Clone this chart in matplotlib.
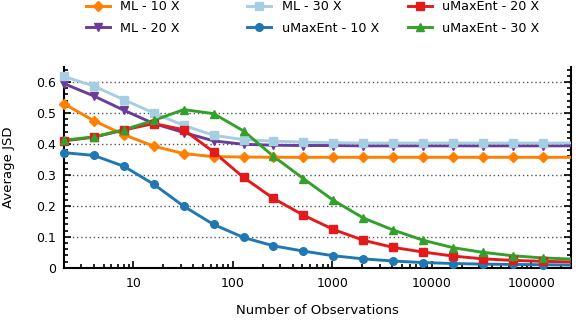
import matplotlib
matplotlib.use('Agg')
import matplotlib.pyplot as plt
import numpy as np
from matplotlib.ticker import FixedLocator, LogLocator, FuncFormatter, MultipleLocator

# number of observations (powers of two)
obs = [2, 4, 8, 16, 32, 64, 128, 256, 512, 1024, 2048, 4096, 8192,
       16384, 32768, 65536, 131072, 262144]

ml_10 = [0.530, 0.475, 0.430, 0.393, 0.369, 0.359, 0.358, 0.357, 0.357, 0.357,
         0.357, 0.357, 0.357, 0.357, 0.357, 0.357, 0.357, 0.357]
ml_20 = [0.595, 0.555, 0.509, 0.466, 0.437, 0.410, 0.399, 0.396, 0.395, 0.395,
         0.394, 0.394, 0.394, 0.394, 0.394, 0.394, 0.394, 0.394]
ml_30 = [0.618, 0.587, 0.543, 0.500, 0.460, 0.428, 0.414, 0.409, 0.406, 0.404,
         0.403, 0.403, 0.403, 0.403, 0.403, 0.403, 0.403, 0.403]
umax_10 = [0.372, 0.363, 0.328, 0.270, 0.199, 0.140, 0.098, 0.071, 0.054, 0.039,
           0.029, 0.022, 0.017, 0.014, 0.012, 0.011, 0.010, 0.009]
umax_20 = [0.410, 0.422, 0.445, 0.466, 0.446, 0.374, 0.292, 0.224, 0.170, 0.124,
           0.089, 0.066, 0.051, 0.038, 0.029, 0.024, 0.021, 0.019]
umax_30 = [0.412, 0.423, 0.446, 0.476, 0.511, 0.498, 0.442, 0.360, 0.288, 0.218,
           0.161, 0.122, 0.089, 0.065, 0.050, 0.039, 0.032, 0.028]

series = [
    ('ML - 10 X', ml_10, '#ff7f00', 'D', 5),
    ('ML - 20 X', ml_20, '#6a3d9a', 'v', 6),
    ('ML - 30 X', ml_30, '#a6cee3', 's', 5.5),
    ('uMaxEnt - 10 X', umax_10, '#1f78b4', 'o', 5.5),
    ('uMaxEnt - 20 X', umax_20, '#e31a1c', 's', 5.5),
    ('uMaxEnt - 30 X', umax_30, '#33a02c', '^', 6),
]

xmax = 250000

fig = plt.figure(figsize=(5.76, 3.2), dpi=100)
ax = fig.add_axes([0.111, 0.163, 0.880, 0.629])

obs_arr = np.array(obs)
handles = []
for name, vals, col, mk, ms in series:
    vals = np.array(vals)
    ax.plot(obs_arr, vals, color=col, lw=2.1, zorder=3)
    keep = obs_arr <= xmax
    ax.plot(obs_arr[keep], vals[keep], color=col, lw=0, marker=mk, ms=ms,
            clip_on=False, zorder=4)
    h, = ax.plot([], [], color=col, lw=2.1, marker=mk, ms=ms, label=name)
    handles.append(h)

ax.set_xscale('log')
ax.set_xlim(2, xmax)
ax.set_ylim(0, 0.65)

ax.xaxis.set_major_locator(FixedLocator([10, 100, 1000, 10000, 100000]))
ax.xaxis.set_major_formatter(FuncFormatter(lambda v, p: '%d' % v))
ax.xaxis.set_minor_locator(LogLocator(base=10, subs=np.arange(2, 10)))
ax.set_yticks([0, 0.1, 0.2, 0.3, 0.4, 0.5, 0.6])
ax.set_yticklabels(['0', '0.1', '0.2', '0.3', '0.4', '0.5', '0.6'])
ax.yaxis.set_minor_locator(MultipleLocator(0.02))

ax.tick_params(which='both', direction='in', left=True, right=True,
               bottom=True, top=False, labelsize=9, width=1.2)
ax.tick_params(which='major', length=5)
ax.tick_params(which='minor', length=3)
ax.tick_params(axis='x', which='major', pad=6.5)
ax.tick_params(axis='y', which='major', pad=5.5)
ax.spines['top'].set_visible(False)
for s in ['left', 'right', 'bottom']:
    ax.spines[s].set_linewidth(1.5)

ax.grid(True, axis='y', which='major', linestyle=(0, (1, 2)), color='#555555', lw=1)
ax.set_axisbelow(True)

ax.set_xlabel('Number of Observations', fontsize=9.5, labelpad=10.5)
ax.set_ylabel('Average JSD', fontsize=9.5, labelpad=15)

# legend: three evenly spaced columns of two entries
col_x = [86 / 576, 247 / 576, 408 / 576]
for i, x0 in enumerate(col_x):
    leg = fig.legend(handles=handles[2 * i:2 * i + 2], loc='upper left',
                     bbox_to_anchor=(x0, 1.0), frameon=False, fontsize=9.2,
                     handlelength=1.9, handletextpad=0.8, labelspacing=0.7,
                     borderpad=0, borderaxespad=0)

fig.savefig('out.png', dpi=100)
